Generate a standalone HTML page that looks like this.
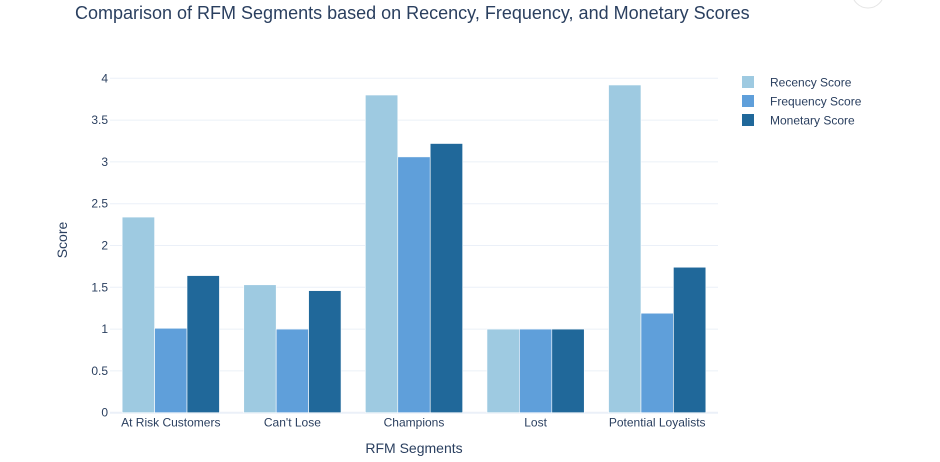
<!DOCTYPE html>
<html><head><meta charset="utf-8"><style>
body{margin:0;background:#fff;font-family:"Liberation Sans",Arial,sans-serif;}
svg text{font-family:"Liberation Sans",Arial,sans-serif;fill:#2a3f5f;}
</style></head><body>
<svg id="chart" width="940" height="457">
<circle cx="868" cy="-8" r="16" fill="none" stroke="#e5e5e5"/>
<text x="75" y="19" font-size="18">Comparison of RFM Segments based on Recency, Frequency, and Monetary Scores</text>
<g id="grid"></g><g id="bars"></g><g id="axes"></g>
<text x="414" y="453" font-size="14" text-anchor="middle">RFM Segments</text>
<text transform="translate(67,240) rotate(-90)" font-size="14" text-anchor="middle">Score</text>
<g id="legend"></g>
</svg>
<script>
const categories=["At Risk Customers","Can't Lose","Champions","Lost","Potential Loyalists"];
const recency=[2.34,1.53,3.80,1.0,3.92];
const frequency=[1.01,1.0,3.06,1.0,1.19];
const monetary=[1.64,1.46,3.22,1.0,1.74];
const seriesNames=["Recency Score","Frequency Score","Monetary Score"];
const yTicks=[0,0.5,1,1.5,2,2.5,3,3.5,4];
const yTickLabels=["0","0.5","1","1.5","2","2.5","3","3.5","4"];
const colors=["#9ecae1","#5f9fda","#20689a"];
const NS="http://www.w3.org/2000/svg";
const L=110,R=718,T=78.3,B=412.7,yMax=4;
const y=v=>B-(v/yMax)*(B-T);
const cw=(R-L)/categories.length;
const x=i=>L+cw*i;
function mk(tag,attrs,parent){const e=document.createElementNS(NS,tag);for(const k in attrs)e.setAttribute(k,attrs[k]);parent.appendChild(e);return e;}
const grid=document.getElementById('grid'),bars=document.getElementById('bars'),axes=document.getElementById('axes'),leg=document.getElementById('legend');
yTicks.forEach((t,i)=>{
 const ln=mk('line',{x1:L,x2:R,y1:y(t),y2:y(t),stroke:t===0?'#ebf0f8':'#ebf0f8','stroke-width':t===0?2:1},grid);
 
 
 const tx=mk('text',{x:L-2,y:y(t)+4,'font-size':12,'text-anchor':'end'},axes);
 tx.textContent=yTickLabels[i];
 
 
});
const series=[recency,frequency,monetary];
const bw=cw*0.8/3;
categories.forEach((c,i)=>{
 series.forEach((s,j)=>{
  const bx=x(i)+cw*0.1+bw*j;
  const r=mk('rect',{x:bx,y:y(s[i]),width:bw,height:B-y(s[i]),fill:colors[j],stroke:'#fff','stroke-width':0.6},bars);
  
  
 });
 const tx=mk('text',{x:x(i)+cw/2,y:B+14,'font-size':12,'text-anchor':'middle'},axes);
 tx.textContent=c;
 
 
});
seriesNames.forEach((n,j)=>{
 const g=mk('g',{},leg);
 
 
 const ly=82+j*19;
 mk('rect',{x:742,y:ly-6,width:12,height:12,fill:colors[j]},g);
 const t=mk('text',{x:770,y:ly+4.5,'font-size':12},g);
 t.textContent=n;
});
</script>
</body></html>
